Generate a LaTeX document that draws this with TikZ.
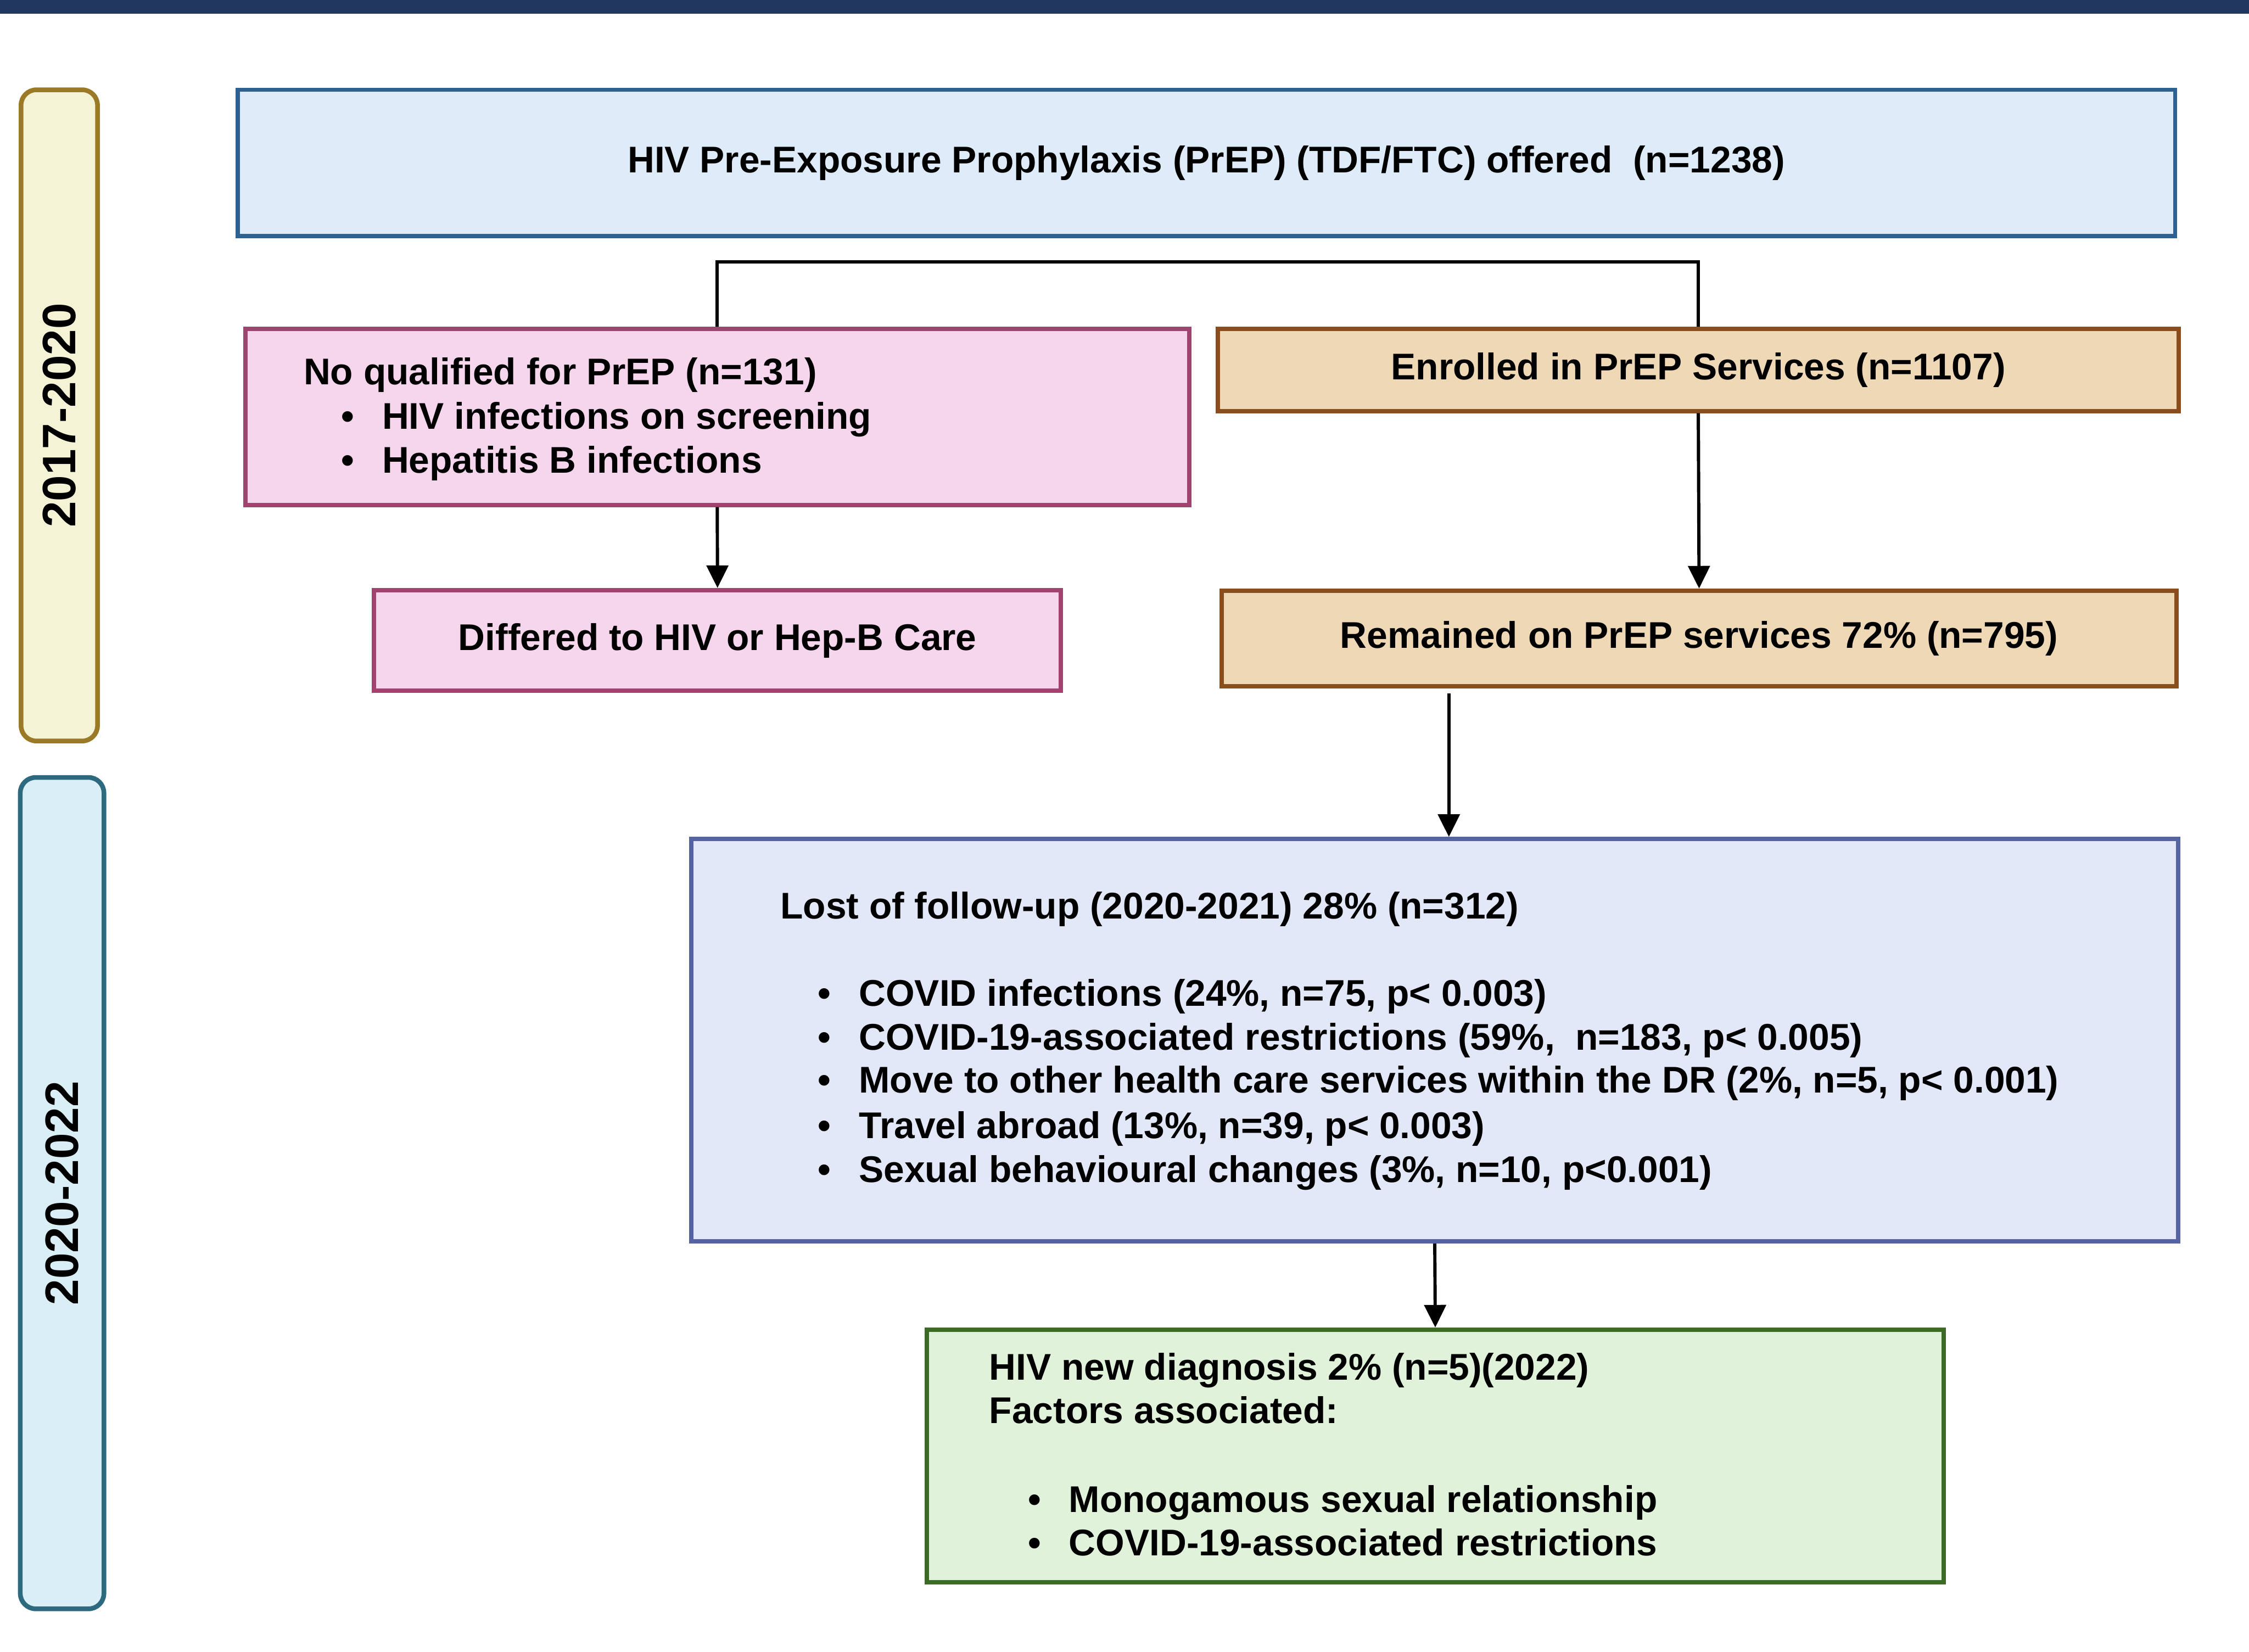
\documentclass[tikz,border=0pt]{standalone}
\usepackage{fontspec}
\setmainfont{Liberation Sans}
\usepackage{tikz}
\usetikzlibrary{arrows.meta,positioning,calc}

\definecolor{topbar}{HTML}{21375F}
\definecolor{offerfill}{HTML}{DEEBF8}
\definecolor{offerline}{HTML}{2F6190}
\definecolor{noqfill}{HTML}{F6D6EC}
\definecolor{noqline}{HTML}{A2426F}
\definecolor{prepfill}{HTML}{EED8B6}
\definecolor{prepline}{HTML}{8A4E1E}
\definecolor{lostfill}{HTML}{E3E8F8}
\definecolor{lostline}{HTML}{5563A2}
\definecolor{hivfill}{HTML}{E0F2D9}
\definecolor{hivline}{HTML}{3B6B25}
\definecolor{erafill}{HTML}{F4F3D6}
\definecolor{eraline}{HTML}{9B7A27}
\definecolor{covfill}{HTML}{D9EEF5}
\definecolor{covline}{HTML}{2E6A7F}

\newcommand{\bul}{\makebox[0.8cm][l]{\textbullet}}

\begin{document}
\begin{tikzpicture}[>={Triangle[length=4.4mm,width=4.2mm]},
	box/.style={draw, line width=2.4pt, inner sep=0pt, align=center, font=\fontsize{20.6}{24.5}\selectfont\bfseries},
	txt/.style={anchor=base west, inner sep=0pt, font=\fontsize{20.6}{24.5}\selectfont\bfseries},
	era/.style={draw, line width=2.6pt, rounded corners=3mm, rotate=90, inner sep=0pt, font=\fontsize{26}{30}\selectfont\bfseries},
	link/.style={line width=1.8pt}]
		\useasboundingbox (0,0) rectangle (43.82,32.19);
		\fill [topbar] (0,31.92) rectangle (43.82,32.19);

		\node (era1) at (1.155,24.095) [era, draw=eraline, fill=erafill, minimum width=12.69cm, minimum height=1.49cm] {2017-2020};
		\node (era2) at (1.21,8.94) [era, draw=covline, fill=covfill, minimum width=16.2cm, minimum height=1.63cm] {2020-2022};

		\node (offer) at (23.505,29.015) [box, draw=offerline, fill=offerfill, minimum width=37.75cm, minimum height=2.85cm] {HIV Pre-Exposure Prophylaxis (PrEP) (TDF/FTC) offered~ (n=1238)};
		\node (noq) at (13.975,24.065) [box, draw=noqline, fill=noqfill, minimum width=18.39cm, minimum height=3.43cm] {};
		\node (enrol) at (33.09,24.98) [box, draw=prepline, fill=prepfill, minimum width=18.72cm, minimum height=1.6cm] {Enrolled in PrEP Services (n=1107)};
		\node (differ) at (13.98,19.71) [box, draw=noqline, fill=noqfill, minimum width=13.38cm, minimum height=1.96cm] {Differed to HIV or Hep-B Care};
		\node (remain) at (33.105,19.75) [box, draw=prepline, fill=prepfill, minimum width=18.61cm, minimum height=1.86cm] {Remained on PrEP services 72\% (n=795)};
		\node (lost) at (27.955,11.92) [box, draw=lostline, fill=lostfill, minimum width=28.97cm, minimum height=7.84cm] {};
		\node (hivnew) at (27.965,3.82) [box, draw=hivline, fill=hivfill, minimum width=19.81cm, minimum height=4.92cm] {};

		\node (noqT) at (5.91,24.70) [txt] {No qualified for PrEP (n=131)};
		\node (noqA) at (6.64,23.83) [txt] {\bul HIV infections on screening};
		\node (noqB) at (6.64,22.97) [txt] {\bul Hepatitis B infections};

		\node (lostT) at (15.20,14.29) [txt] {Lost of follow-up (2020-2021) 28\% (n=312)};
		\node (lostA) at (15.93,12.59) [txt] {\bul COVID infections (24\%, n=75, p< 0.003)};
		\node (lostB) at (15.93,11.73) [txt] {\bul COVID-19-associated restrictions (59\%,~ n=183, p< 0.005)};
		\node (lostC) at (15.93,10.89) [txt] {\bul Move to other health care services within the DR (2\%, n=5, p< 0.001)};
		\node (lostD) at (15.93,10.01) [txt] {\bul Travel abroad (13\%, n=39, p< 0.003)};
		\node (lostE) at (15.93,9.15) [txt] {\bul Sexual behavioural changes (3\%, n=10, p<0.001)};

		\node (hivT) at (19.27,5.30) [txt] {HIV new diagnosis 2\% (n=5)(2022)};
		\node (hivF) at (19.27,4.45) [txt] {Factors associated:};
		\node (hivA) at (20.02,2.72) [txt] {\bul Monogamous sexual relationship};
		\node (hivB) at (20.02,1.88) [txt] {\bul COVID-19-associated restrictions};

		\coordinate (split) at (23.5,27.09);
		\coordinate (gap) at (28.23,18.68);
		\draw [link] (noq.north) |- (split) -| (enrol.north);
		\draw [link, ->] (noq.south) -- (differ.north);
		\draw [link, ->] (enrol.south) -- (remain.north);
		\draw [link, ->] (gap) -- (gap |- lost.north);
		\draw [link, ->] (lost.south) -- (hivnew.north);
	\end{tikzpicture}
\end{document}
